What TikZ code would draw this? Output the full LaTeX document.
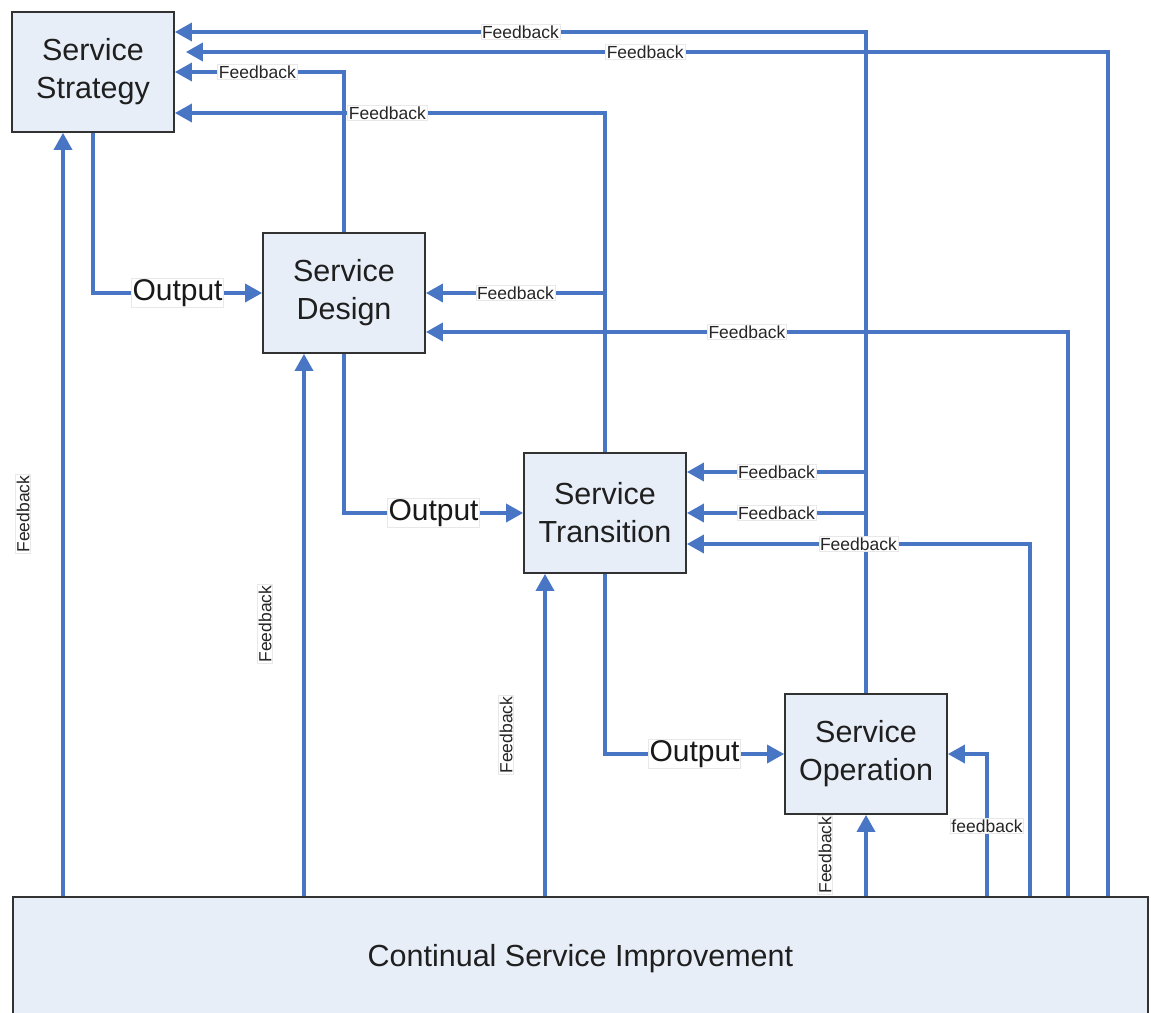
\documentclass[tikz,border=0pt]{standalone}
\usepackage{fontspec}
\setmainfont{Liberation Sans}
\usetikzlibrary{arrows.meta,calc}
\definecolor{flowblue}{RGB}{72,118,196}
\definecolor{boxfill}{RGB}{232,238,248}
\definecolor{boxline}{RGB}{50,50,50}
\tikzset{
  box/.style={draw=boxline, line width=1.8pt, fill=boxfill, minimum width=162pt, minimum height=120pt, align=center, inner sep=0pt, text=black!88, font=\fontsize{30.5}{38}\selectfont},
  flow/.style={draw=flowblue, line width=3.5pt, -{Triangle[length=17pt,width=18pt]}},
  fb/.style={font=\fontsize{17.5}{17.5}\selectfont, fill=white, draw=gray!18, line width=0.6pt, inner sep=1.2pt, text=black!85},
  outlbl/.style={font=\fontsize{30}{30}\selectfont, fill=white, draw=gray!18, line width=0.6pt, inner sep=1.2pt, text=black!90},
}
\begin{document}
\begin{tikzpicture}[x=1pt,y=-1pt]
\useasboundingbox[fill=white] (0,0) rectangle (1151,1012);
% boxes
\node[box] (ss) at (93,72) {Service\\Strategy};
\node[box] (sd) at (344,293) {Service\\Design};
\node[box] (st) at (605,513) {Service\\Transition};
\node[box] (so) at (866,754) {Service\\Operation};
\node[box, minimum width=1135pt, minimum height=140pt, anchor=north west] (csi) at (12,896) {\raisebox{22pt}{Continual Service Improvement}};
% helper coordinates
\coordinate (xA) at (63,0);
\coordinate (xB) at (304,0);
\coordinate (xC) at (545,0);
\coordinate (xE) at (987,0);
\coordinate (xF) at (1030,0);
\coordinate (xG) at (1068,0);
\coordinate (xH) at (1108,0);
\coordinate (y32) at (0,32);
\coordinate (y52) at (0,52);
\coordinate (y113) at (0,113);
\coordinate (y332) at (0,332);
\coordinate (y472) at (0,472);
\coordinate (y544) at (0,544);
\coordinate (j1) at (866,472);
\coordinate (j2) at (866,513);
% outputs
\draw[flow] (ss.south) |- node[outlbl, pos=0.75] (o1) {Output} (sd.west);
\draw[flow] (sd.south) |- node[outlbl, pos=0.75] (o2) {Output} (st.west);
\draw[flow] (st.south) |- node[outlbl, pos=0.75] (o3) {Output} (so.west);
% feedback to strategy
\draw[flow] (so.north) |- node[fb, pos=0.75] (f1) {Feedback} (ss.east |- y32);
\draw[flow, shorten >=11pt] (csi.north -| xH) |- node[fb, pos=0.748] (f2) {Feedback} (ss.east |- y52);
\draw[flow] (sd.north) |- node[fb, pos=0.756] (f3) {Feedback} (ss.east);
\draw[flow] (st.north) |- node[fb, pos=0.753] (f4) {Feedback} (ss.east |- y113);
% feedback to design
\draw[flow] (st.north |- sd.east) -- node[fb] (f5) {Feedback} (sd.east);
\draw[flow] (csi.north -| xG) |- node[fb, pos=0.75] (f6) {Feedback} (sd.east |- y332);
% feedback to transition
\draw[flow] (j1) -- node[fb] (f7) {Feedback} (st.east |- y472);
\draw[flow] (j2) -- node[fb] (f8) {Feedback} (st.east);
\draw[flow] (csi.north -| xF) |- node[fb, pos=0.75] (f9) {Feedback} (st.east |- y544);
% feedback to operation
\draw[flow] (csi.north -| xE) |- node[fb, pos=0.246] (f10) {feedback} (so.east);
\draw[flow] (csi.north -| so.south) -- (so.south);
% feedback from CSI upward
\draw[flow] (csi.north -| xC) -- (st.south -| xC);
\draw[flow] (csi.north -| xB) -- (sd.south -| xB);
\draw[flow] (csi.north -| xA) -- (ss.south -| xA);
% rotated labels
\node[fb, rotate=90] (r1) at (23,514) {Feedback};
\node[fb, rotate=90] (r2) at (265,624) {Feedback};
\node[fb, rotate=90] (r3) at (506,735) {Feedback};
\node[fb, rotate=90] (r4) at (825,855) {Feedback};
\end{tikzpicture}
\end{document}
